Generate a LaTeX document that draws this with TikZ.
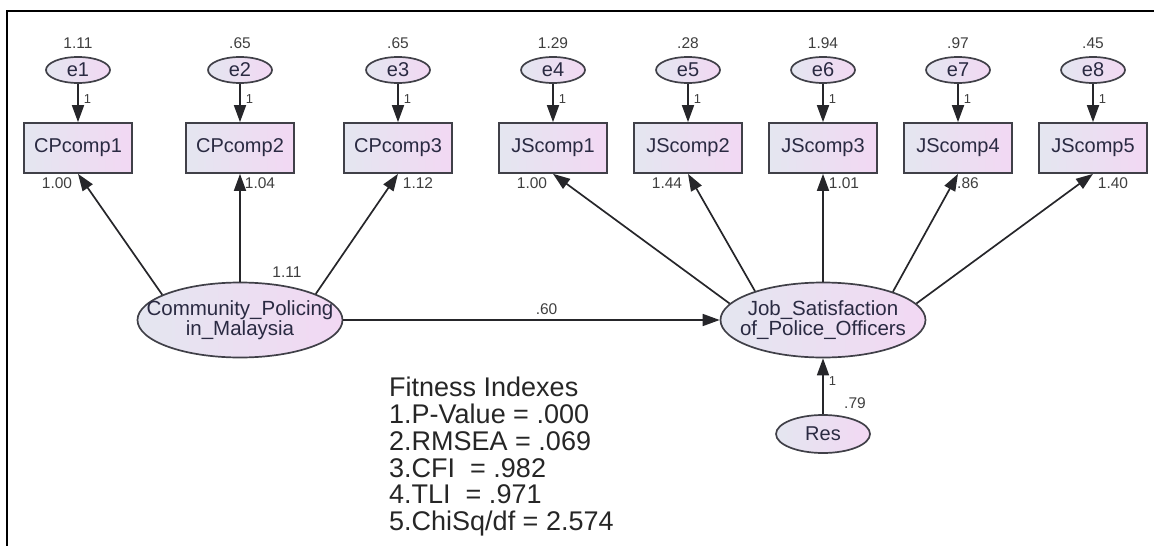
\documentclass[tikz,border=0pt]{standalone}
\usepackage{fontspec}
\setmainfont{Liberation Sans}
\usetikzlibrary{arrows.meta,shapes.geometric}
\definecolor{shadeL}{RGB}{228,230,240}
\definecolor{shadeR}{RGB}{242,216,243}
\definecolor{edge}{RGB}{64,64,72}
\definecolor{wire}{RGB}{38,38,42}
\definecolor{txt}{RGB}{42,42,66}
\definecolor{num}{RGB}{62,62,62}

\begin{document}
\begin{tikzpicture}[x=1pt,y=-1pt,
  obs/.style={
    draw=edge,
    line width=1.7pt,
    left color=shadeL,
    right color=shadeR,
    minimum width=108pt,
    minimum height=50pt,
    inner sep=0pt,
    text=txt,
    font=\fontsize{20}{20}\selectfont
  },
  err/.style={
    ellipse,
    draw=edge,
    line width=1.7pt,
    left color=shadeL,
    right color=shadeR,
    minimum width=64pt,
    minimum height=26pt,
    inner sep=0pt,
    text=txt,
    font=\fontsize{20}{20}\selectfont
  },
  factor/.style={
    ellipse,
    draw=edge,
    line width=1.7pt,
    left color=shadeL,
    right color=shadeR,
    minimum width=205pt,
    minimum height=75pt,
    inner sep=0pt
  },
  flabel/.style={align=center,text=txt,font=\fontsize{20.5}{20}\selectfont},
  regpath/.style={line width=1.7pt,draw=wire,-{Triangle[length=17pt,width=12pt]}},
  estim/.style={inner sep=0pt,text=num,font=\fontsize{15.5}{15.5}\selectfont},
  unit/.style={inner sep=0pt,text=num,font=\fontsize{13}{13}\selectfont},
  fitblock/.style={anchor=north west,align=left,inner sep=0pt,text=black!85,
    font=\fontsize{27}{26.8}\selectfont}
]
  \useasboundingbox (0,0) rectangle (1154,546);
  \draw[line width=2pt] (7,546) -- (7,11) -- (1154,11);

  % Community policing factor and its three indicators
  \node[factor,label={[flabel]center:{Community\_Policing\\in\_Malaysia}}]
    (cpf) at (240,320) {};
  \node[estim] (vcpf) at (287,272) {1.11};
  \foreach \i/\x/\vr/\ld/\lx/\ang in
    {1/78/1.11/1.00/57/162, 2/240/.65/1.04/260/90, 3/398/.65/1.12/418/19} {
    \node[obs] (cp\i) at (\x,148) {CPcomp\i};
    \node[err] (ecp\i) at (\x,70) {e\i};
    \node[estim] (vcp\i) at (\x,43) {\vr};
    \node[estim] (lcp\i) at (\lx,183) {\ld};
    \draw[regpath] (ecp\i) -- node[unit,right=5pt,pos=.4] (ucp\i) {1} (cp\i);
    \draw[regpath] (cpf.\ang) -- (cp\i.south);
  }

  % Job satisfaction factor and its five indicators
  \node[factor,label={[flabel]center:{Job\_Satisfaction\\of\_Police\_Officers}}]
    (jsf) at (823,320) {};
  \foreach \i/\e/\x/\vr/\ld/\lx/\ang in
    {1/4/553/1.29/1.00/532/170, 2/5/688/.28/1.44/667/157, 3/6/823/1.94/1.01/844/90,
     4/7/958/.97/.86/968/22, 5/8/1093/.45/1.40/1113/10} {
    \node[obs] (js\i) at (\x,148) {JScomp\i};
    \node[err] (ejs\i) at (\x,70) {e\e};
    \node[estim] (vjs\i) at (\x,43) {\vr};
    \node[estim] (ljs\i) at (\lx,183) {\ld};
    \draw[regpath] (ejs\i) -- node[unit,right=5pt,pos=.4] (ujs\i) {1} (js\i);
    \draw[regpath] (jsf.\ang) -- (js\i.south);
  }

  % structural path and residual
  \draw[regpath] (cpf) -- node[estim,above=5pt,pos=.54] (beta) {.60} (jsf);
  \node[err,minimum width=94pt,minimum height=38pt] (res) at (823,434) {Res};
  \draw[regpath] (res) -- node[unit,right=5pt,pos=.6] (ures) {1} (jsf);
  \node[estim] (vres) at (855,403) {.79};

  \node[fitblock] (fit) at (389,377) {Fitness Indexes\\1.P-Value = .000\\
    2.RMSEA = .069\\3.CFI\ \ = .982\\4.TLI\ \ = .971\\5.ChiSq/df = 2.574};
\end{tikzpicture}
\end{document}
